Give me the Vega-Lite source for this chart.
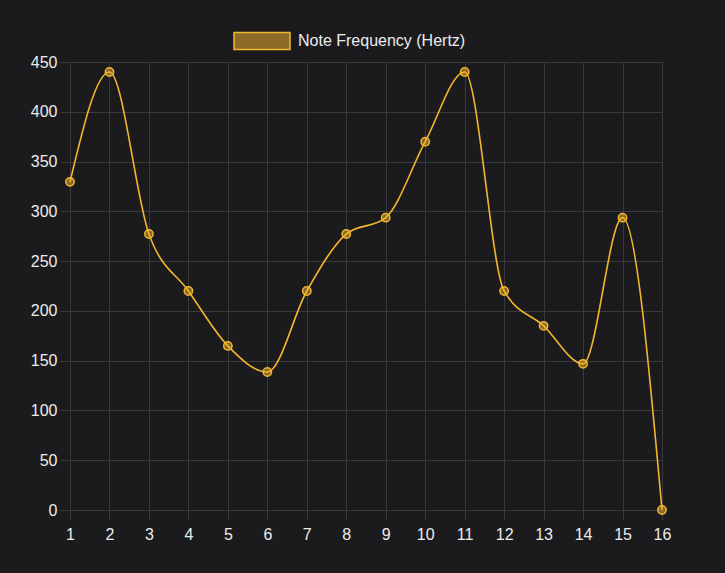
{
  "$schema": "https://vega.github.io/schema/vega-lite/v6.json",
  "autosize": "none",
  "width": 592,
  "height": 448,
  "padding": {"left": 70, "top": 62, "right": 63, "bottom": 63},
  "background": "#1b1b1d",
  "config": {
    "view": {"stroke": null},
    "font": "Liberation Sans",
    "axis": {
      "gridColor": "#3a3a3c",
      "gridWidth": 1,
      "domainColor": "#4a4a4c",
      "tickColor": "#3a3a3c",
      "tickSize": 10,
      "labelColor": "#ececec",
      "labelFontSize": 16,
      "labelFont": "Liberation Sans",
      "title": null
    }
  },
  "data": {
    "values": [
      {"step": 1, "freq": 329.63, "series": "Note Frequency (Hertz)"},
      {"step": 2, "freq": 440, "series": "Note Frequency (Hertz)"},
      {"step": 3, "freq": 277.18, "series": "Note Frequency (Hertz)"},
      {"step": 4, "freq": 220, "series": "Note Frequency (Hertz)"},
      {"step": 5, "freq": 164.81, "series": "Note Frequency (Hertz)"},
      {"step": 6, "freq": 138.59, "series": "Note Frequency (Hertz)"},
      {"step": 7, "freq": 220, "series": "Note Frequency (Hertz)"},
      {"step": 8, "freq": 277.18, "series": "Note Frequency (Hertz)"},
      {"step": 9, "freq": 293.66, "series": "Note Frequency (Hertz)"},
      {"step": 10, "freq": 369.99, "series": "Note Frequency (Hertz)"},
      {"step": 11, "freq": 440, "series": "Note Frequency (Hertz)"},
      {"step": 12, "freq": 220, "series": "Note Frequency (Hertz)"},
      {"step": 13, "freq": 184.99, "series": "Note Frequency (Hertz)"},
      {"step": 14, "freq": 146.83, "series": "Note Frequency (Hertz)"},
      {"step": 15, "freq": 293.66, "series": "Note Frequency (Hertz)"},
      {"step": 16, "freq": 0, "series": "Note Frequency (Hertz)"}
    ]
  },
  "encoding": {
    "x": {
      "field": "step", "type": "quantitative",
      "scale": {"domain": [1, 16], "nice": false, "zero": false},
      "axis": {"values": [1,2,3,4,5,6,7,8,9,10,11,12,13,14,15,16], "labelPadding": 6, "labelFlush": false, "domainColor": "#3a3a3c"}
    },
    "y": {
      "field": "freq", "type": "quantitative",
      "scale": {"domain": [0, 450], "nice": false},
      "axis": {"values": [0,50,100,150,200,250,300,350,400,450], "labelPadding": 3, "domainColor": "#3a3a3c"}
    }
  },
  "layer": [
    {
      "mark": {"type": "line", "interpolate": "monotone", "strokeWidth": 1.6},
      "encoding": {
        "color": {
          "field": "series", "type": "nominal",
          "scale": {"range": ["#f2b62e"]},
          "legend": {
            "orient": "none",
            "legendX": 163,
            "legendY": -50,
            "title": null,
            "symbolType": "M-1,-0.3H1V0.3H-1Z",
            "symbolSize": 3136,
            "symbolStrokeWidth": 1.5,
            "labelFontSize": 16,
            "labelColor": "#ececec",
            "labelOffset": 7,
            "labelLimit": 400,
            "padding": 0,
            "encode": {
              "symbols": {"update": {"fill": {"value": "#8c6c28"}, "stroke": {"value": "#f2b62e"}, "strokeWidth": {"value": 1.5}}}
            }
          }
        }
      }
    },
    {
      "mark": {"type": "point", "filled": true, "size": 70, "fill": "#f2b62e", "fillOpacity": 0.5, "stroke": "#f2b62e", "strokeWidth": 1.5, "strokeOpacity": 1}
    }
  ]
}
